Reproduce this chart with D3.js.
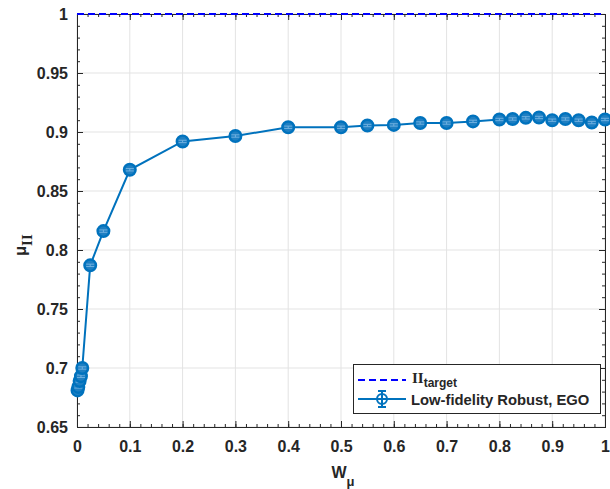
<!DOCTYPE html>
<html>
<head>
  <meta charset="utf-8">
  <script src="https://cdn.jsdelivr.net/npm/d3@7"></script>
  <style>
    body { margin: 0; background: #fff; }
    text { font-family: "Liberation Sans", Arial, sans-serif; font-weight: bold; fill: #262626; }
  </style>
</head>
<body>
  <div id="chart"></div>
  <script>
    // data
    var wValues = [0.001, 0.0025, 0.005, 0.0075, 0.01, 0.025, 0.05, 0.1, 0.2, 0.3, 0.4, 0.5, 0.55, 0.6, 0.65,
      0.7, 0.75, 0.8, 0.825, 0.85, 0.875, 0.9, 0.925, 0.95, 0.975, 1.0];
    var muValues = [0.681, 0.684, 0.689, 0.693, 0.700, 0.787, 0.816, 0.868, 0.892, 0.8966, 0.904, 0.904, 0.9055, 0.906, 0.9076,
      0.9076, 0.909, 0.9106, 0.911, 0.912, 0.9123, 0.910, 0.911, 0.910, 0.908, 0.9106];
    var muErr = [0.001, 0.001, 0.001, 0.001, 0.001, 0.001, 0.001, 0.001, 0.001, 0.001, 0.001, 0.001, 0.001, 0.001, 0.001,
      0.001, 0.001, 0.001, 0.001, 0.001, 0.001, 0.001, 0.001, 0.001, 0.001, 0.001];
    var target = 1;
    var xTicks = [0, 0.1, 0.2, 0.3, 0.4, 0.5, 0.6, 0.7, 0.8, 0.9, 1];
    var yTicks = [0.65, 0.7, 0.75, 0.8, 0.85, 0.9, 0.95, 1];

    const W = 610, H = 489;
    const margin = { top: 14, right: 5, bottom: 62, left: 77 },
      width = W - margin.left - margin.right,
      height = H - margin.top - margin.bottom;

    const blue = "#0072BD";

    var svg = d3.select("#chart").append("svg")
      .attr("width", W).attr("height", H);
    var g = svg.append("g").attr("transform", `translate(${margin.left},${margin.top})`);

    var x = d3.scaleLinear().domain([0, 1]).range([0, width]);
    var y = d3.scaleLinear().domain([0.65, 1]).range([height, 0]);

    // grid
    g.append("g").selectAll("line").data(xTicks).enter().append("line")
      .attr("x1", d => x(d)).attr("x2", d => x(d)).attr("y1", 0).attr("y2", height)
      .attr("stroke", "#e3e3e3").attr("stroke-width", 1);
    g.append("g").selectAll("line").data(yTicks).enter().append("line")
      .attr("y1", d => y(d)).attr("y2", d => y(d)).attr("x1", 0).attr("x2", width)
      .attr("stroke", "#e3e3e3").attr("stroke-width", 1);

    // minor ticks
    var xMinor = d3.range(0, 1.0001, 0.02);
    var yMinor = d3.range(0.65, 1.0001, 0.01);
    function styleAxis(sel) {
      sel.selectAll("path").attr("stroke", "#262626").attr("stroke-width", 1);
      sel.selectAll("line").attr("stroke", "#262626").attr("stroke-width", 1);
    }
    [["bottom", 0], ["top", 0]].forEach(function (p) {
      var ax = p[0] == "bottom" ? d3.axisBottom(x) : d3.axisTop(x);
      var minor = g.append("g").attr("transform", p[0] == "bottom" ? `translate(0,${height})` : "")
        .call(ax.tickValues(xMinor).tickSize(-3).tickFormat(""));
      styleAxis(minor);
    });
    [["left"], ["right"]].forEach(function (p) {
      var ax = p[0] == "left" ? d3.axisLeft(y) : d3.axisRight(y);
      var minor = g.append("g").attr("transform", p[0] == "left" ? "" : `translate(${width},0)`)
        .call(ax.tickValues(yMinor).tickSize(-3).tickFormat(""));
      styleAxis(minor);
    });

    // major axes
    var xAxis = g.append("g").attr("transform", `translate(0,${height})`)
      .call(d3.axisBottom(x).tickValues(xTicks).tickSize(-6).tickPadding(14).tickFormat(d3.format("")));
    styleAxis(xAxis);
    xAxis.selectAll("text").attr("font-size", 16).style("font-family", "Liberation Sans").style("font-weight", "bold").attr("fill", "#262626");
    var xTop = g.append("g").call(d3.axisTop(x).tickValues(xTicks).tickSize(-6).tickFormat(""));
    styleAxis(xTop);

    var yAxis = g.append("g")
      .call(d3.axisLeft(y).tickValues(yTicks).tickSize(-6).tickPadding(9).tickFormat(d3.format("")));
    styleAxis(yAxis);
    yAxis.selectAll("text").attr("font-size", 16).style("font-family", "Liberation Sans").style("font-weight", "bold").attr("fill", "#262626");
    var yRight = g.append("g").attr("transform", `translate(${width},0)`)
      .call(d3.axisRight(y).tickValues(yTicks).tickSize(-6).tickFormat(""));
    styleAxis(yRight);

    // target line
    g.append("line")
      .attr("x1", 0).attr("x2", width).attr("y1", y(target)).attr("y2", y(target))
      .attr("stroke", "#0000ff").attr("stroke-width", 2).attr("stroke-dasharray", "7,4");

    // data line
    var pts = d3.zip(wValues, muValues, muErr);
    g.append("path").datum(pts)
      .attr("fill", "none").attr("stroke", blue).attr("stroke-width", 2)
      .attr("d", d3.line().x(d => x(d[0])).y(d => y(d[1])));

    // error bars and markers
    function drawMarker(sel, cx, cy, e) {
      sel.append("circle").attr("cx", cx).attr("cy", cy).attr("r", 5.8)
        .attr("fill", "#1f7fc2").attr("stroke", blue).attr("stroke-width", 2.4);
      sel.append("line").attr("x1", cx).attr("x2", cx).attr("y1", cy - e).attr("y2", cy + e)
        .attr("stroke", "#6fb0e0").attr("stroke-width", 1);
      sel.append("line").attr("x1", cx - 4).attr("x2", cx + 4).attr("y1", cy - e).attr("y2", cy - e)
        .attr("stroke", "#6fb0e0").attr("stroke-width", 1);
      sel.append("line").attr("x1", cx - 4).attr("x2", cx + 4).attr("y1", cy + e).attr("y2", cy + e)
        .attr("stroke", "#6fb0e0").attr("stroke-width", 1);
    }
    var mk = g.append("g");
    pts.forEach(function (d) {
      var e = Math.abs(y(d[1] + d[2]) - y(d[1]));
      drawMarker(mk.append("g"), x(d[0]), y(d[1]), e);
    });

    // axis labels
    var xl = svg.append("text").attr("x", 343).attr("y", 478).attr("text-anchor", "middle").attr("font-size", 16);
    xl.append("tspan").text("W");
    xl.append("tspan").attr("dy", 8).attr("font-size", 13).text("μ");

    var yl = svg.append("text").attr("transform", "translate(26,245) rotate(-90)").attr("text-anchor", "middle").attr("font-size", 16);
    yl.append("tspan").text("μ");
    yl.append("tspan").attr("dy", 6).attr("font-size", 15).style("font-family", "Liberation Serif").text("II");

    // legend
    var lg = svg.append("g");
    lg.append("rect").attr("x", 353.5).attr("y", 364.5).attr("width", 247).attr("height", 49)
      .attr("fill", "#fff").attr("stroke", "#262626").attr("stroke-width", 1);
    lg.append("line").attr("x1", 358).attr("x2", 406).attr("y1", 380).attr("y2", 380)
      .attr("stroke", "#0000ff").attr("stroke-width", 2).attr("stroke-dasharray", "7,4");
    var t1 = lg.append("text").attr("x", 412).attr("y", 383).attr("font-size", 15);
    t1.append("tspan").style("font-family", "Liberation Serif").text("II");
    t1.append("tspan").attr("dy", 4).attr("font-size", 12).text("target");
    lg.append("line").attr("x1", 358).attr("x2", 406).attr("y1", 399).attr("y2", 399)
      .attr("stroke", blue).attr("stroke-width", 2);
    lg.append("line").attr("x1", 382).attr("x2", 382).attr("y1", 391).attr("y2", 407)
      .attr("stroke", blue).attr("stroke-width", 2);
    lg.append("line").attr("x1", 378).attr("x2", 386).attr("y1", 391).attr("y2", 391)
      .attr("stroke", blue).attr("stroke-width", 2);
    lg.append("line").attr("x1", 378).attr("x2", 386).attr("y1", 407).attr("y2", 407)
      .attr("stroke", blue).attr("stroke-width", 2);
    lg.append("circle").attr("cx", 382).attr("cy", 399).attr("r", 5)
      .attr("fill", "none").attr("stroke", blue).attr("stroke-width", 2);
    lg.append("text").attr("x", 411).attr("y", 405).attr("font-size", 14.8).text("Low-fidelity Robust, EGO");
  </script>
</body>
</html>
